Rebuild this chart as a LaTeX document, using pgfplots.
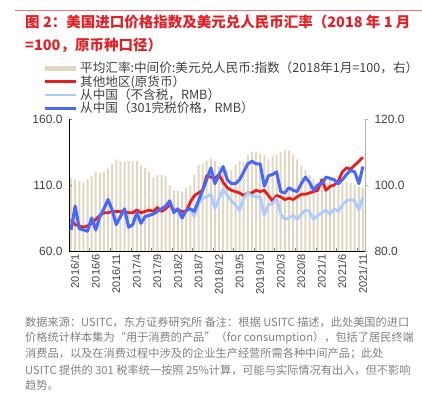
\documentclass[border=0pt]{standalone}
\usepackage{fontspec}
\usepackage{pgfplots}
\usepackage{pgfplotstable}
\pgfplotsset{compat=1.18}
\setmainfont{Liberation Sans}
\newfontfamily\cjk{Noto Sans CJK SC}
\definecolor{titlered}{RGB}{226,32,38}
\definecolor{linered}{RGB}{230,30,30}
\definecolor{lineblue}{RGB}{72,104,250}
\definecolor{lightblue}{RGB}{170,204,255}
\definecolor{beige}{RGB}{224,214,194}
\definecolor{txt}{RGB}{64,64,64}
\definecolor{note}{RGB}{128,128,128}

\pgfplotstableread{
pos rate other notax t301
0.5 102.0 84 76 76
1.5 101.7 80 94 94
2.5 101.3 79 77 77
3.5 100.8 78 76 76
4.5 101.7 79 75 75
5.5 102.6 81 85 85
6.5 104.0 84 76 76
7.5 103.5 87 86 86
8.5 103.9 89 92 92
9.5 105.0 89 99 99
10.5 106.4 90 91 91
11.5 107.7 90 80 80
12.5 107.3 90 86 86
13.5 107.0 90 92 92
14.5 107.3 89 78 78
15.5 107.2 89 80 80
16.5 107.2 91 89 89
17.5 105.9 89 81 81
18.5 105.3 90 86 86
19.5 103.9 91 87 87
20.5 102.3 90 88 88
21.5 103.0 93 90 90
22.5 103.1 90 92 92
23.5 102.6 92 94 94
24.5 100.0 95 98 98
25.5 98.4 91 89 89
26.5 98.3 91 92 92
27.5 97.9 90 85 85
28.5 99.1 90 91 91
29.5 99.8 97 92 92
30.5 103.1 102 86 90
31.5 106.1 104 96 98
32.5 106.4 106 100 106
33.5 107.4 117 101 114
34.5 108.0 116 103 123
35.5 107.2 115 92 111
36.5 105.7 118 100 118
37.5 104.7 112 107 124
38.5 104.5 108 102 114
39.5 104.6 106 98 111
40.5 106.3 105 95 111
41.5 107.3 104 91 114
42.5 107.0 102 100 120
43.5 109.2 104 104 126
44.5 110.1 104 102 128
45.5 110.1 106 101 126
46.5 109.4 105 101 126
47.5 109.2 106 87 109
48.5 108.0 102 95 117
49.5 108.9 98 96 118
50.5 109.2 102 100 120
51.5 110.0 101 88 105
52.5 110.5 99 84 104
53.5 110.4 100 85 108
54.5 109.1 99 87 106
55.5 107.8 101 84 105
56.5 105.9 103 88 111
57.5 104.6 103 91 116
58.5 103.1 104 90 112
59.5 102.0 105 84 106
60.5 100.8 106 87 110
61.5 100.6 114 89 111
62.5 101.5 106 91 116
63.5 101.6 109 88 115
64.5 100.6 110 92 114
65.5 100.1 113 90 111
66.5 100.8 120 95 114
67.5 100.9 123 98 118
68.5 100.6 122 99 121
69.5 100.2 125 98 120
70.5 99.6 128 91 111
71.5 99.2 131 101 124
}\datatable

\begin{document}
\begin{tikzpicture}
\useasboundingbox (0,0) rectangle (422pt,392pt);
% title
\draw[titlered!60, line width=0.8pt] (15pt,382pt) -- (422pt,382pt);
\node[anchor=west, inner sep=0pt, text=titlered, font=\cjk\bfseries\fontsize{14.5}{17}\selectfont] at (25pt,370pt) {图 2：美国进口价格指数及美元兑人民币汇率（2018 年 1 月};
\node[anchor=west, inner sep=0pt, text=titlered, font=\cjk\bfseries\fontsize{14.5}{17}\selectfont] at (25pt,347pt) {=100，原币种口径）};

% bars, right axis
\begin{axis}[
  at={(69pt,141pt)}, anchor=south west,
  scale only axis, width=296pt, height=132pt,
  xmin=0, xmax=72, ymin=80, ymax=120,
  axis x line=none, axis y line*=right,
  y axis line style={gray!60},
  ytick={80,100,120},
  ytick style={gray!60},
  tick align=outside, major tick length=3pt,
  tick label style={font=\fontsize{12}{14}\selectfont, text=txt},
  yticklabel style={xshift=3pt, /pgf/number format/.cd, fixed, fixed zerofill, precision=1, assume math mode=true},
]
\addplot[ybar, bar width=2pt, fill=beige, draw=none] table[x=pos,y=rate]{\datatable};
\end{axis}

% lines, left axis
\begin{axis}[
  at={(69pt,141pt)}, anchor=south west,
  scale only axis, width=296pt, height=132pt,
  xmin=0, xmax=72, ymin=60, ymax=160,
  axis y line*=left, axis x line*=bottom,
  ytick={60,110,160},
  yticklabel style={xshift=-3pt, /pgf/number format/.cd, fixed, fixed zerofill, precision=1, assume math mode=true},
  xtick={0,5,...,70}, xticklabels={},
  extra x ticks={0.5,5.5,...,70.5},
  extra x tick labels={2016/1,2016/6,2016/11,2017/4,2017/9,2018/2,2018/7,2018/12,2019/5,2019/10,2020/3,2020/8,2021/1,2021/6,2021/11},
  extra x tick style={major tick length=0pt, tick label style={rotate=90, anchor=east, font=\fontsize{11}{13}\selectfont}},
  xticklabel style={yshift=-4pt},
  major tick length=3pt, tick align=inside,
  tick label style={font=\fontsize{12}{14}\selectfont, text=txt},
  legend style={at={(-0.0912,1.447)}, anchor=north west, draw=none, fill=none, inner sep=0pt,
    font=\cjk\fontsize{12.6}{14}\selectfont, text=txt, cells={anchor=west}, row sep=-3pt},
  legend image code/.code={\draw[#1] (0pt,0pt) -- (31pt,0pt);},
]
\addlegendimage{color=beige, line width=5pt}
\addlegendentry{平均汇率:中间价:美元兑人民币:指数（2018年1月=100，右）}
\addplot[color=linered, line width=2.8pt, line join=round] table[x=pos,y=other]{\datatable};
\addlegendentry{其他地区(原货币）}
\addplot[color=lightblue, line width=2.8pt, line join=round] table[x=pos,y=notax]{\datatable};
\addlegendentry{从中国（不含税，RMB）}
\addplot[color=lineblue, line width=3pt, line join=round] table[x=pos,y=t301]{\datatable};
\addlegendentry{从中国（301完税价格，RMB）}
\end{axis}

% footnote
\begin{scope}[every node/.style={anchor=west, inner sep=0pt, text=note, font=\cjk\fontsize{11.2}{13}\selectfont}]
\node at (25pt,70pt) {数据来源：USITC，东方证券研究所 备注：根据 USITC 描述，此处美国的进口};
\node at (25pt,54pt) {价格统计样本集为“用于消费的产品”（for consumption），包括了居民终端};
\node at (25pt,38pt) {消费品，以及在消费过程中涉及的企业生产经营所需各种中间产品；此处};
\node at (25pt,22pt) {USITC 提供的 301 税率统一按照 25\%计算，可能与实际情况有出入，但不影响};
\node at (25pt,7pt) {趋势。};
\end{scope}
\end{tikzpicture}
\end{document}
